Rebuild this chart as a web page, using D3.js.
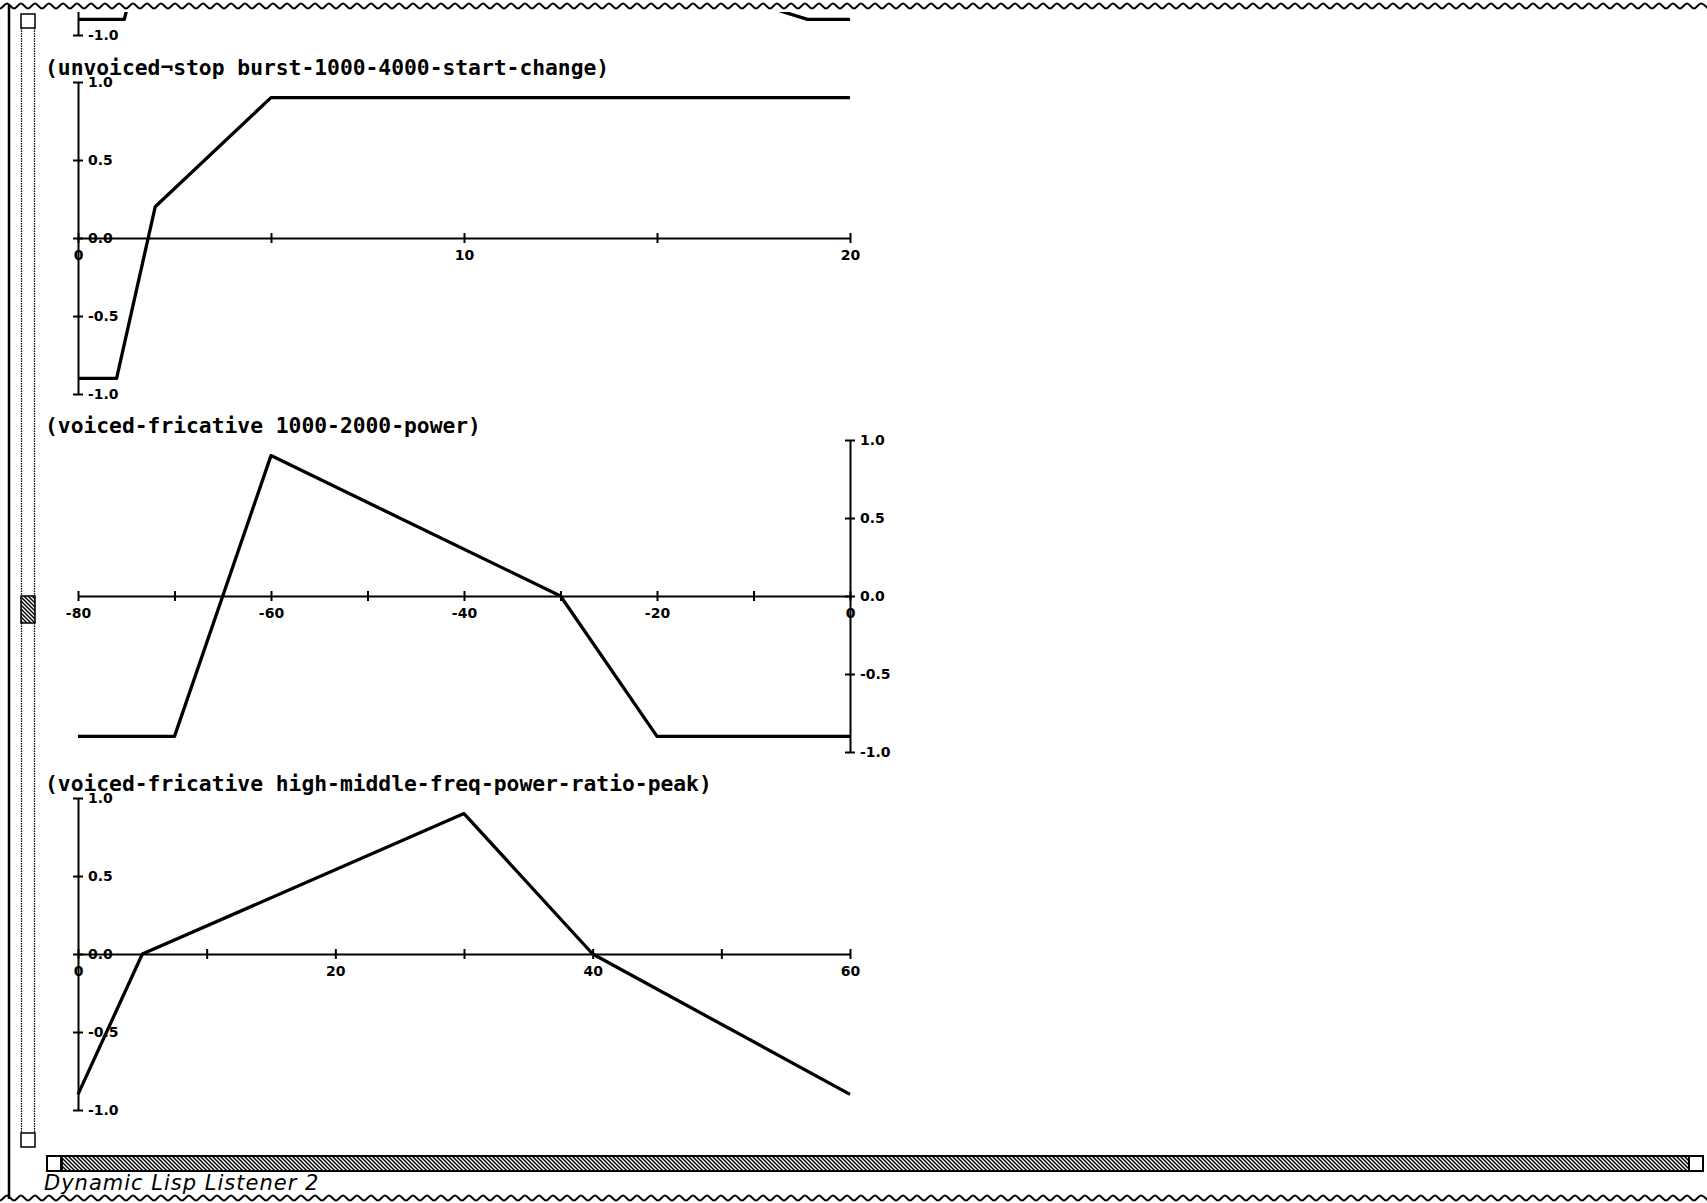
<!DOCTYPE html>
<html><head><meta charset="utf-8">
<script src="https://cdn.jsdelivr.net/npm/d3@7"></script>
<style>html,body{margin:0;padding:0;background:#fff;overflow:hidden}</style>
</head><body><svg id="c" width="1707" height="1203"></svg>
<script>
// ---------- data ----------
const fragX = [0, 1.2, 3, 12, 15, 18.9, 20];
const fragY = [-0.9, -0.9, 0.9, 0.9, -0.6, -0.9, -0.9];

const burstTitle = "(unvoiced¬stop burst-1000-4000-start-change)";
const burstX = [0, 1, 2, 5, 20];
const burstY = [-0.9, -0.9, 0.2, 0.9, 0.9];
const burstXTicks = [0, 5, 10, 15, 20];
const burstXLabels = ["0", "", "10", "", "20"];

const powerTitle = "(voiced-fricative 1000-2000-power)";
const powerX = [-80, -70, -60, -30, -20, 0];
const powerY = [-0.9, -0.9, 0.9, 0, -0.9, -0.9];
const powerXTicks = [-80, -70, -60, -50, -40, -30, -20, -10, 0];
const powerXLabels = ["-80", "", "-60", "", "-40", "", "-20", "", "0"];

const ratioTitle = "(voiced-fricative high-middle-freq-power-ratio-peak)";
const ratioX = [0, 5, 30, 40, 60];
const ratioY = [-0.9, 0, 0.9, 0, -0.9];
const ratioXTicks = [0, 10, 20, 30, 40, 50, 60];
const ratioXLabels = ["0", "", "20", "", "40", "", "60"];

const yTicks = [-1, -0.5, 0, 0.5, 1];
const yTickLabels = ["-1.0", "-0.5", "0.0", "0.5", "1.0"];

const windowLabel = "Dynamic Lisp Listener 2";

// ---------- drawing ----------
const svg = d3.select("#c");
const defs = svg.append("defs");
defs.append("clipPath").attr("id", "content")
  .append("rect").attr("x", 40).attr("y", 12).attr("width", 1667).attr("height", 1135);
const pat = defs.append("pattern").attr("id", "hatch")
  .attr("patternUnits", "userSpaceOnUse").attr("width", 4).attr("height", 4);
pat.append("rect").attr("width", 4).attr("height", 4).attr("fill", "#fff");
pat.append("path").attr("d", "M0,0L4,4M-1,3L1,5M3,-1L5,1")
  .attr("stroke", "#000").attr("stroke-width", 1.5);

const content = svg.append("g").attr("clip-path", "url(#content)");

function drawPanel(cfg) {
  const g = content.append("g");
  const x = d3.scaleLinear().domain(cfg.xDomain).range([78, 850]);
  const y = d3.scaleLinear().domain([-1, 1]).range([cfg.top + 312, cfg.top]);
  const axes = [];

  if (cfg.xTicks) {
    const xa = d3.axisBottom(x).tickValues(cfg.xTicks)
      .tickFormat((d, i) => cfg.xLabels[i]).tickSize(5).tickSizeOuter(0).tickPadding(7);
    const gx = g.append("g").attr("transform", `translate(0,${y(0)})`).call(xa);
    gx.selectAll(".tick line").attr("y1", -5).attr("y2", 5);
    axes.push(gx);
  }

  const ya = d3.axisRight(y).tickValues(yTicks)
    .tickFormat((d, i) => (y(d) > 12 ? yTickLabels[i] : "")).tickSize(5).tickSizeOuter(0).tickPadding(5);
  const gy = g.append("g").attr("transform", `translate(${x(0)},0)`).call(ya);
  gy.selectAll(".tick line").attr("x1", -5).attr("x2", 5);
  axes.push(gy);

  axes.forEach(a => {
    a.attr("font-family", "'DejaVu Sans', sans-serif").attr("font-size", 14).attr("font-weight", "bold");
    a.selectAll(".domain").attr("stroke", "#000").attr("stroke-width", 2);
    a.selectAll(".tick line").attr("stroke", "#000").attr("stroke-width", 2);
    a.selectAll(".tick text").attr("fill", "#000");
  });

  g.append("path").datum(d3.zip(cfg.xs, cfg.ys))
    .attr("d", d3.line().x(d => x(d[0])).y(d => y(d[1])))
    .attr("fill", "none").attr("stroke", "#000").attr("stroke-width", 3.3)
    .attr("stroke-linejoin", "round");

  if (cfg.title) {
    g.append("text").attr("x", 45).attr("y", cfg.top - 7)
      .attr("font-family", "'DejaVu Sans Mono', monospace").attr("font-weight", "bold")
      .attr("font-size", 21.3).attr("fill", "#000").text(cfg.title);
  }
}

drawPanel({xDomain: [0, 20], top: -277, xs: fragX, ys: fragY});
drawPanel({xDomain: [0, 20], top: 82, xTicks: burstXTicks, xLabels: burstXLabels, xs: burstX, ys: burstY, title: burstTitle});
drawPanel({xDomain: [-80, 0], top: 440, xTicks: powerXTicks, xLabels: powerXLabels, xs: powerX, ys: powerY, title: powerTitle});
drawPanel({xDomain: [0, 60], top: 798, xTicks: ratioXTicks, xLabels: ratioXLabels, xs: ratioX, ys: ratioY, title: ratioTitle});

// ---------- window chrome ----------
function wave(y0) {
  const pts = [];
  for (let xx = -7, k = 0; xx <= 1714; xx += 7, k++) pts.push([xx, y0 + (k % 2 ? 2.5 : -2.5)]);
  return d3.line().curve(d3.curveCardinal)(pts);
}
svg.append("path").attr("d", wave(6)).attr("fill", "none").attr("stroke", "#000").attr("stroke-width", 2);
svg.append("path").attr("d", wave(1198)).attr("fill", "none").attr("stroke", "#000").attr("stroke-width", 2);

svg.append("line").attr("x1", 9).attr("x2", 9).attr("y1", 5).attr("y2", 1199)
  .attr("stroke", "#000").attr("stroke-width", 2.5);

[21.5, 34.5].forEach(xx => svg.append("line").attr("x1", xx).attr("x2", xx)
  .attr("y1", 28).attr("y2", 1133).attr("stroke", "#000").attr("stroke-width", 1.3)
  .attr("stroke-dasharray", "1.5,1"));
svg.append("rect").attr("x", 21).attr("y", 14).attr("width", 14).attr("height", 14)
  .attr("fill", "#fff").attr("stroke", "#000").attr("stroke-width", 1.5);
svg.append("rect").attr("x", 21).attr("y", 1133).attr("width", 14).attr("height", 14)
  .attr("fill", "#fff").attr("stroke", "#000").attr("stroke-width", 1.5);
svg.append("rect").attr("x", 21).attr("y", 596).attr("width", 14).attr("height", 27)
  .attr("fill", "url(#hatch)").attr("stroke", "#000").attr("stroke-width", 1.5);

svg.append("rect").attr("x", 47).attr("y", 1156).attr("width", 1656).attr("height", 15)
  .attr("fill", "url(#hatch)").attr("stroke", "#000").attr("stroke-width", 2);
svg.append("rect").attr("x", 47).attr("y", 1156).attr("width", 14).attr("height", 15)
  .attr("fill", "#fff").attr("stroke", "#000").attr("stroke-width", 2);
svg.append("line").attr("x1", 62).attr("x2", 62).attr("y1", 1156).attr("y2", 1171)
  .attr("stroke", "#000").attr("stroke-width", 2);
svg.append("rect").attr("x", 1689).attr("y", 1156).attr("width", 14).attr("height", 15)
  .attr("fill", "#fff").attr("stroke", "#000").attr("stroke-width", 2);

svg.append("text").attr("x", 44).attr("y", 1190)
  .attr("font-family", "'DejaVu Sans', sans-serif").attr("font-style", "italic")
  .attr("font-size", 21).attr("letter-spacing", 1).attr("fill", "#000").text(windowLabel);
</script></body></html>
